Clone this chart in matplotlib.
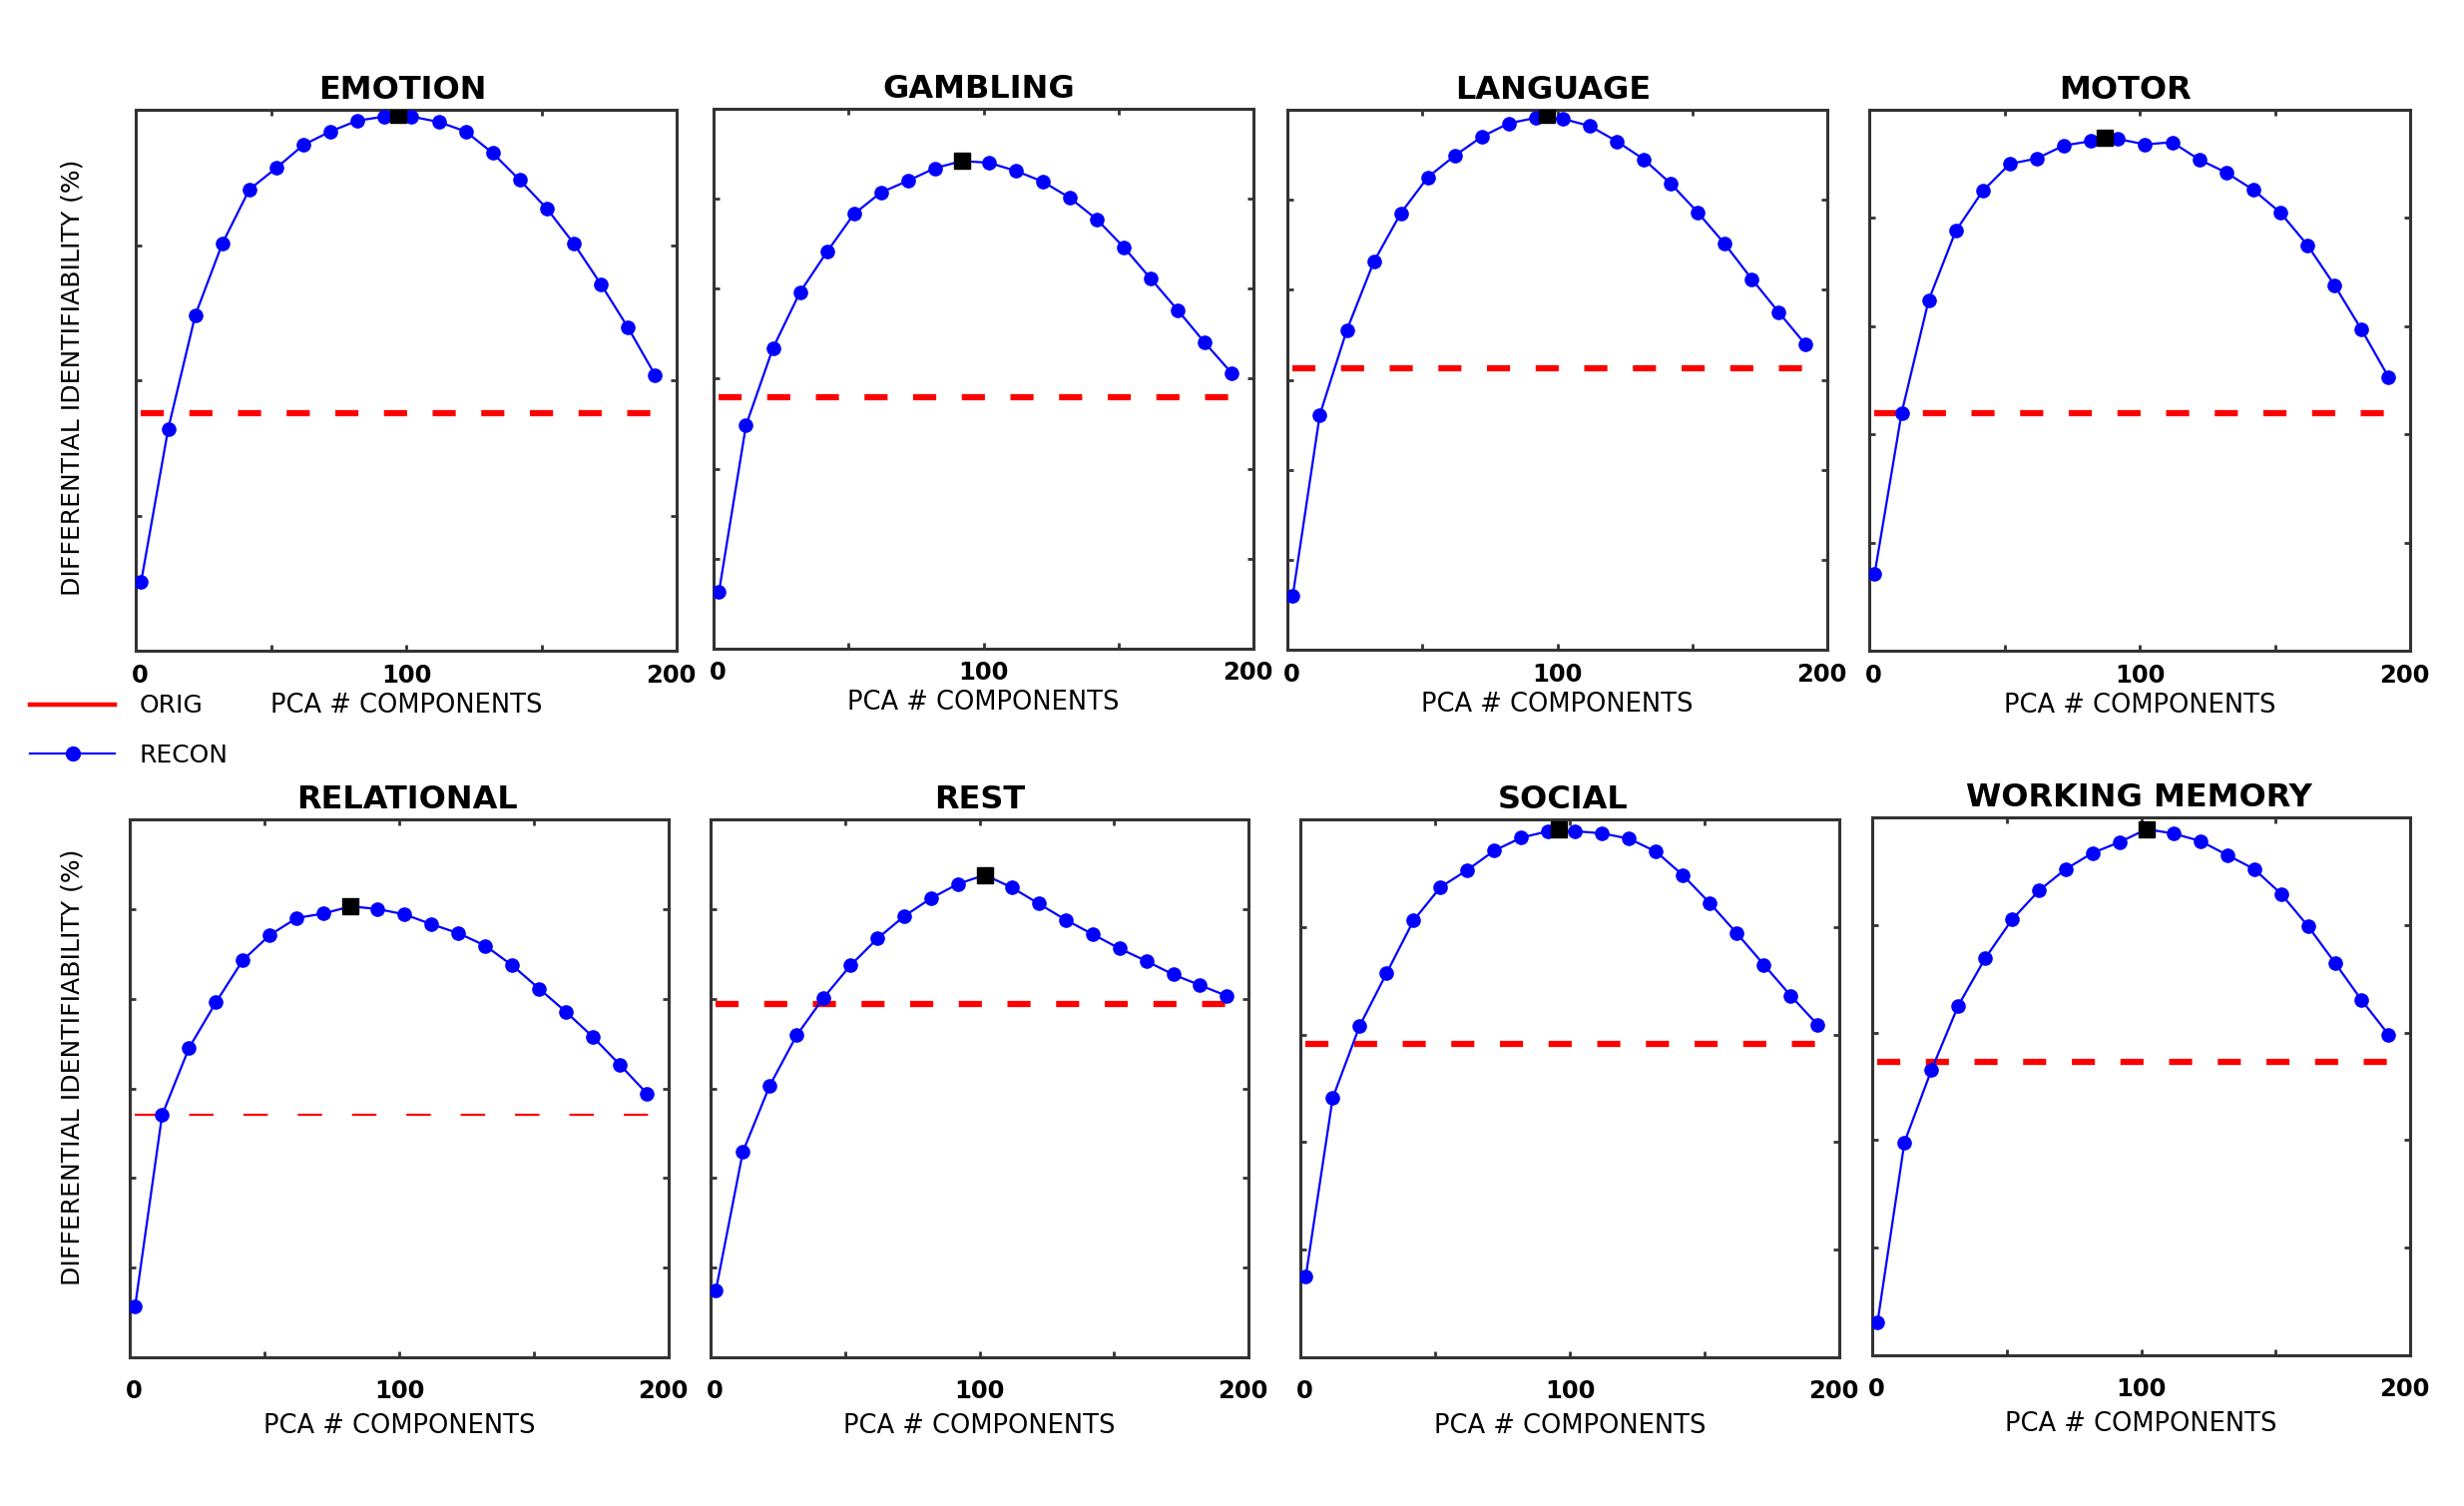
import matplotlib
matplotlib.use("Agg")
import matplotlib.pyplot as plt
from matplotlib.lines import Line2D
from matplotlib.transforms import ScaledTranslation

plt.rcParams['font.family'] = ['DejaVu Sans']

# ---------------- data ----------------
pca_components = [2, 12, 22, 32, 42, 52, 62, 72, 82, 92,
                  102, 112, 122, 132, 142, 152, 162, 172, 182, 192]

tasks = ["EMOTION", "GAMBLING", "LANGUAGE", "MOTOR",
         "RELATIONAL", "REST", "SOCIAL", "WORKING MEMORY"]

recon_emotion = [0.51, 1.64, 2.48, 3.01, 3.41, 3.57, 3.74, 3.84, 3.92, 3.95,
                 3.95, 3.91, 3.84, 3.68, 3.48, 3.27, 3.01, 2.71, 2.39, 2.04]
recon_gambling = [0.63, 2.48, 3.34, 3.96, 4.41, 4.83, 5.07, 5.20, 5.34, 5.42,
                  5.40, 5.31, 5.19, 5.01, 4.77, 4.46, 4.11, 3.76, 3.40, 3.06]
recon_language = [0.60, 2.61, 3.55, 4.31, 4.85, 5.25, 5.49, 5.70, 5.85, 5.91,
                  5.90, 5.82, 5.65, 5.45, 5.18, 4.86, 4.51, 4.12, 3.75, 3.39]
recon_motor = [0.71, 2.20, 3.24, 3.88, 4.25, 4.50, 4.55, 4.67, 4.71, 4.73,
               4.68, 4.70, 4.54, 4.42, 4.26, 4.05, 3.75, 3.38, 2.97, 2.53]
recon_relational = [0.57, 2.70, 3.45, 3.96, 4.43, 4.71, 4.90, 4.95, 5.03, 5.00,
                    4.94, 4.83, 4.73, 4.59, 4.37, 4.11, 3.85, 3.57, 3.26, 2.94]
recon_rest = [0.75, 2.29, 3.03, 3.59, 4.01, 4.37, 4.67, 4.92, 5.12, 5.28,
              5.38, 5.24, 5.06, 4.88, 4.72, 4.56, 4.42, 4.27, 4.15, 4.03]
recon_social = [0.75, 2.41, 3.08, 3.57, 4.06, 4.37, 4.53, 4.71, 4.83, 4.89,
                4.89, 4.87, 4.82, 4.70, 4.48, 4.22, 3.94, 3.65, 3.36, 3.09]
recon_wm = [0.31, 1.98, 2.65, 3.25, 3.69, 4.05, 4.32, 4.52, 4.67, 4.77,
            4.89, 4.85, 4.78, 4.65, 4.52, 4.29, 3.99, 3.65, 3.30, 2.98]

orig_values = [1.76, 2.79, 3.13, 2.20, 2.70, 3.94, 2.91, 2.73]

best_x = [97, 92, 96, 87, 82, 102, 96, 102]
best_y = [3.96, 5.42, 5.95, 4.74, 5.03, 5.38, 4.91, 4.89]

y_intervals = [4, 6, 6, 5, 6, 6, 5, 5]

recon_all = [recon_emotion, recon_gambling, recon_language, recon_motor,
             recon_relational, recon_rest, recon_social, recon_wm]

x_ticks = [0, 50, 100, 150, 200]
x_tick_labels = ["0", "", "100", "", "200"]

# ---------------- layout ----------------
W, H = 2469, 1509
boxes = [  # left, right, top, bottom in pixels
    (136, 678, 110, 652),
    (715, 1256, 109, 650),
    (1290, 1831, 110, 651),
    (1873, 2415, 110, 652),
    (130, 670, 821, 1360),
    (712, 1251, 821, 1360),
    (1303, 1843, 821, 1360),
    (1876, 2415, 819, 1358),
]
title_dx = [-4, -5, -4, -14, 8, 0, -7, -2]  # pixel offsets of titles

fig = plt.figure(figsize=(W / 100, H / 100), dpi=100)
spine_col = '#333333'

for i, task in enumerate(tasks):
    l, r, t, b = boxes[i]
    ax = fig.add_axes([l / W, 1 - b / H, (r - l) / W, (b - t) / H])
    n = y_intervals[i]
    lw_orig = 1.6 if task == "RELATIONAL" else 4.5
    dash = (11.0, 13.5) if task == "RELATIONAL" else (3.7, 4.1)
    ax.plot([2, 200], [orig_values[i]] * 2, color='#ff0000', lw=lw_orig,
            linestyle=(0, dash), zorder=2)
    ax.plot(pca_components, recon_all[i], color='#0000ff', lw=1.6,
            marker='o', markersize=9.5, zorder=3)
    ax.plot([best_x[i]], [best_y[i]], marker='s', color='black',
            markersize=11, linestyle='none', zorder=4)
    ax.set_xlim(0, 200)
    ax.set_ylim(0, n)
    ax.set_xticks(x_ticks)
    ax.set_xticklabels(x_tick_labels)
    ax.set_yticks(list(range(0, n + 1)))
    ax.set_yticklabels([])
    ax.tick_params(axis='both', direction='in', length=4, width=2,
                   color=spine_col, top=True, right=True)
    pad_x = 9 if i < 4 else 16
    ax.tick_params(axis='x', labelsize=17.5, pad=pad_x)
    for s in ax.spines.values():
        s.set_linewidth(2.2)
        s.set_color(spine_col)
    ax.set_title(task, fontsize=23, fontweight='bold', pad=8,
                 x=0.5 + title_dx[i] / (r - l))
    ax.set_xlabel("PCA # COMPONENTS", fontsize=18.5,
                  labelpad=3.6 if i < 4 else 7)
    if i == 0:
        ax.set_ylabel("DIFFERENTIAL IDENTIFIABILITY (%)", fontsize=18)
        ax.yaxis.set_label_coords(-0.095, 0.505)
    if i == 4:
        ax.set_ylabel("DIFFERENTIAL IDENTIFIABILITY (%)", fontsize=18)
        ax.yaxis.set_label_coords(-0.085, 0.54)
    labels = ax.get_xticklabels()
    shifts = [4, 0, 0, 0, -6]
    for lab, dx in zip(labels, shifts):
        lab.set_fontweight('bold')
        lab.set_transform(lab.get_transform() +
                          ScaledTranslation(dx / 100, 0, fig.dpi_scale_trans))

handles = [Line2D([], [], color='#ff0000', lw=3.2),
           Line2D([], [], color='#0000ff', lw=1.6, marker='o', markersize=10)]
fig.legend(handles, ["ORIG", "RECON"], loc='center left',
           bbox_to_anchor=(30 / W, 1 - 732 / H), frameon=False,
           fontsize=18, handlelength=3.4, handletextpad=1.0,
           labelspacing=1.0, borderpad=0, borderaxespad=0)

fig.savefig("out.png", dpi=100, facecolor='white')
